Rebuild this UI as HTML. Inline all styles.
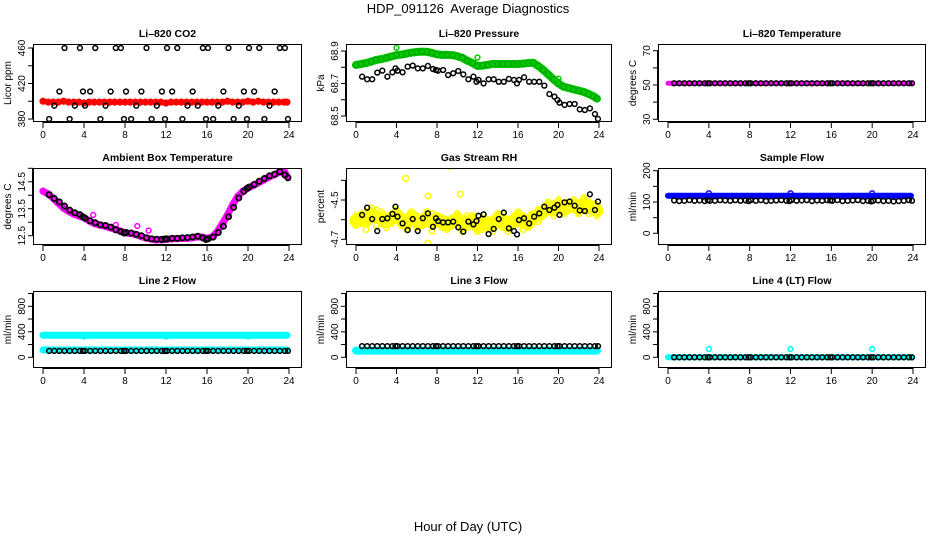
<!DOCTYPE html>
<html><head><meta charset="utf-8"><style>
html,body{margin:0;padding:0;background:#fff;}
svg{display:block;font-family:"Liberation Sans",sans-serif;}
</style></head><body>
<svg id="chart" width="936" height="540" viewBox="0 0 936 540">
<rect x="0" y="0" width="936" height="540" fill="#fff"/>
<text x="468" y="13" font-size="13" text-anchor="middle" style="white-space:pre">HDP_091126  Average Diagnostics</text>
<text x="468" y="531" font-size="13" text-anchor="middle">Hour of Day (UTC)</text>
</svg>
<script>
const hours49=[0,0.5,1,1.5,2,2.5,3,3.5,4,4.5,5,5.5,6,6.5,7,7.5,8,8.5,9,9.5,10,10.5,11,11.5,12,12.5,13,13.5,14,14.5,15,15.5,16,16.5,17,17.5,18,18.5,19,19.5,20,20.5,21,21.5,22,22.5,23,23.5,23.8];
const hours53=[0.6,1.1,1.6,2.1,2.6,3.1,3.6,3.9,4.1,4.6,5.1,5.6,6.1,6.6,7.1,7.6,7.9,8.1,8.6,9.1,9.6,10.1,10.6,11.1,11.6,11.9,12.1,12.6,13.1,13.6,14.1,14.6,15.1,15.6,15.9,16.1,16.6,17.1,17.6,18.1,18.6,19.1,19.6,19.9,20.1,20.6,21.1,21.6,22.1,22.6,23.1,23.6,23.9];
const outlierHours=[4,12,20];
const xTicks=[0,4,8,12,16,20,24];

const co2Red=[400,399,399,399,400,399,399,399,398,399,399,399,399,399,399,399,399,399,399,399,399,399,399,399,398,399,399,399,399,399,399,399,399,399,399,399,400,399,399,399,400,399,400,399,399,399,399,399,399];
const co2Black=[380,395,411,460,380,395,460,411,395,411,460,380,395,411,460,460,380,411,380,395,411,460,380,395,411,380,460,411,460,380,395,411,395,460,380,460,380,395,411,460,380,395,411,380,460,411,460,380,395,411,460,460,380];

const pressGreen=[68.814,68.82,68.826,68.835,68.845,68.85,68.858,68.866,68.875,68.878,68.884,68.89,68.894,68.896,68.895,68.888,68.88,68.876,68.876,68.875,68.868,68.858,68.84,68.826,68.808,68.81,68.815,68.82,68.82,68.82,68.82,68.82,68.82,68.822,68.826,68.828,68.808,68.783,68.755,68.726,68.7,68.68,68.672,68.664,68.656,68.648,68.635,68.62,68.607];
const pressGreenOut=[68.92,68.86,68.73];
const pressBlack=[68.742,68.726,68.726,68.767,68.779,68.742,68.769,68.793,68.779,68.769,68.804,68.810,68.793,68.793,68.808,68.789,68.783,68.779,68.783,68.752,68.763,68.777,68.756,68.726,68.742,68.711,68.722,68.701,68.726,68.726,68.711,68.711,68.728,68.722,68.701,68.722,68.738,68.711,68.711,68.711,68.687,68.635,68.619,68.598,68.582,68.568,68.574,68.574,68.541,68.537,68.547,68.512,68.482];

const tempMag=hours49.map(()=>51);
const tempBlack=hours53.map(()=>51);

const ambMag=[14.15,14.05,13.89,13.7,13.52,13.4,13.3,13.23,13.17,13.05,12.95,12.9,12.85,12.8,12.74,12.68,12.61,12.58,12.55,12.48,12.42,12.38,12.34,12.35,12.36,12.38,12.39,12.4,12.4,12.42,12.45,12.45,12.4,12.45,12.65,12.95,13.27,13.65,13.96,14.15,14.27,14.36,14.46,14.56,14.67,14.75,14.84,14.92,14.7];
const ambMagOutHours=[4.9,7.1,9.2,10.3];
const ambMagOut=[13.27,12.9,12.86,12.69];
const ambBlack=[14.02,13.88,13.75,13.6,13.45,13.35,13.28,13.2,13.15,13.05,12.98,12.9,12.88,12.82,12.72,12.65,12.6,12.62,12.6,12.55,12.5,12.42,12.38,12.37,12.36,12.38,12.38,12.4,12.4,12.42,12.43,12.45,12.48,12.42,12.36,12.38,12.45,12.62,12.85,13.2,13.55,13.9,14.15,14.25,14.3,14.4,14.52,14.62,14.72,14.78,14.88,14.75,14.65];

const rhYellowA=[-4.58,-4.62,-4.56,-4.60,-4.55,-4.62,-4.58,-4.57,-4.60,-4.63,-4.59,-4.61,-4.58,-4.60,-4.62,-4.57,-4.61,-4.64,-4.60,-4.59,-4.62,-4.60,-4.58,-4.63,-4.61,-4.59,-4.64,-4.60,-4.62,-4.57,-4.60,-4.63,-4.61,-4.58,-4.60,-4.57,-4.55,-4.54,-4.56,-4.52,-4.55,-4.53,-4.51,-4.55,-4.52,-4.54,-4.51,-4.55,-4.53];
const rhYellowB=[-4.63,-4.57,-4.65,-4.54,-4.63,-4.56,-4.64,-4.62,-4.55,-4.58,-4.65,-4.56,-4.64,-4.63,-4.56,-4.66,-4.58,-4.59,-4.65,-4.63,-4.57,-4.66,-4.64,-4.58,-4.66,-4.65,-4.60,-4.66,-4.57,-4.64,-4.66,-4.59,-4.56,-4.65,-4.64,-4.60,-4.61,-4.58,-4.51,-4.58,-4.50,-4.57,-4.55,-4.50,-4.57,-4.49,-4.57,-4.52,-4.58];
const rhOutHours=[4.9,9.2,7.1,10.3,7.1];
const rhOut=[-4.39,-4.33,-4.48,-4.47,-4.72];
const rhBlack=[-4.576,-4.539,-4.597,-4.658,-4.597,-4.593,-4.571,-4.534,-4.585,-4.619,-4.653,-4.597,-4.658,-4.593,-4.568,-4.636,-4.593,-4.607,-4.614,-4.614,-4.610,-4.639,-4.661,-4.610,-4.624,-4.607,-4.580,-4.573,-4.673,-4.647,-4.597,-4.564,-4.644,-4.658,-4.675,-4.602,-4.593,-4.619,-4.585,-4.568,-4.534,-4.551,-4.539,-4.525,-4.576,-4.512,-4.508,-4.529,-4.553,-4.556,-4.471,-4.551,-4.508];

const sampleBlue=hours49.map(()=>120);
const sampleBlueOut=[128,128,128];
const sampleBlack=[105,103,104,106,104,105,103,106,104,104,106,105,104,106,104,105,103,106,104,106,103,104,105,106,104,103,106,104,105,106,103,105,104,106,105,104,106,103,104,105,106,103,104,102,104,105,103,104,102,103,104,106,104];

const l2CyanHigh=hours49.map(()=>345);
const l2CyanHighOut=[325,325,325];
const l2CyanLow=hours49.map(()=>115);
const l2Black=hours53.map(()=>100);
const l3Cyan=hours49.map(()=>105);
const l3Black=hours53.map(()=>175);
const l4Cyan=hours49.map(()=>0);
const l4CyanOut=[130,130,130];
const l4Black=hours53.map(()=>0);

const svg=document.getElementById('chart');
const NS='http://www.w3.org/2000/svg';
function mk(tag,attrs,parent){const e=document.createElementNS(NS,tag);for(const k in attrs)e.setAttribute(k,attrs[k]);(parent||svg).appendChild(e);return e;}

const colX0=[43,356,668], colX24=[289,599,913];
const rowTop=[44,168,291], rowBot=[122,245,368];

function panel(name,title,ytitle,col,row,vA,pA,vB,pB,yticks,ylabels){
  const g=mk('g',{});
  
  
  const xs=h=>colX0[col]+(colX24[col]-colX0[col])*h/24;
  const ys=v=>pA+(v-vA)*(pB-pA)/(vB-vA);
  const L=colX0[col]-10,R=colX24[col]+13,T=rowTop[row],B=rowBot[row];
  const t=mk('text',{x:(L+R)/2,y:T-7,'font-size':10.5,'font-weight':'bold','text-anchor':'middle'},g);t.textContent=title;
  
  
  const yt=mk('text',{x:0,y:0,'font-size':10,'text-anchor':'middle',transform:`translate(${L-22},${(T+B)/2}) rotate(-90)`},g);yt.textContent=ytitle;
  
  
  yticks.forEach(v=>{mk('line',{x1:L-5,x2:L,y1:ys(v),y2:ys(v),stroke:'#000','stroke-width':1},g);});
  mk('line',{x1:L-0.5,x2:L-0.5,y1:ys(yticks[0]),y2:ys(yticks[yticks.length-1]),stroke:'#000'},g);
  ylabels.forEach(v=>{const l=mk('text',{x:0,y:0,'font-size':10,'text-anchor':'middle',transform:`translate(${L-8},${ys(v)}) rotate(-90)`},g);l.textContent=String(v);
    
    });
  xTicks.forEach(h=>{mk('line',{x1:xs(h),x2:xs(h),y1:B,y2:B+6,stroke:'#000'},g);
    const l=mk('text',{x:xs(h),y:B+16,'font-size':10,'text-anchor':'middle'},g);l.textContent=h;
    
    });
  mk('line',{x1:xs(0),x2:xs(24),y1:B+0.5,y2:B+0.5,stroke:'#000'},g);
  const clip='clip'+name;
  const cp=mk('clipPath',{id:clip},g);mk('rect',{x:L,y:T,width:R-L,height:B-T},cp);
  const data=mk('g',{'clip-path':`url(#${clip})`},g);
  const api={
    band(hs,vs,color,w,sname){const p=mk('polyline',{points:hs.map((h,i)=>xs(h)+','+ys(vs[i])).join(' '),fill:'none',stroke:color,'stroke-width':w,'stroke-linejoin':'round','stroke-linecap':'round'},data);
      
      },
    pts(hs,vs,color,sname,r,sw){const sg=mk('g',{},data);
      
      
      hs.forEach((h,i)=>{const c=mk('circle',{cx:xs(h),cy:ys(vs[i]),r:r||2.4,fill:'none',stroke:color,'stroke-width':sw||1.5},sg);
        
        });}
  };
  mk('rect',{x:L+0.5,y:T+0.5,width:R-L-1,height:B-T-1,fill:'none',stroke:'#000','stroke-width':1},g);
  return api;
}

let p;
p=panel('co2','Li\u2013820 CO2','Licor ppm',0,0,380,119,460,48,[380,400,420,440,460],[380,420,460]);
p.band(hours49,co2Red,'#ff0000',5,'co2-red');p.pts(hours49,co2Red,'#ff0000','co2-red-series',2.6,2);
p.pts(hours53,co2Black,'#000','co2-black-series');

p=panel('pressure','Li\u2013820 Pressure','kPa',1,0,68.5,116,68.9,51,[68.5,68.6,68.7,68.8,68.9],[68.5,68.7,68.9]);
p.band(hours49,pressGreen,'#00cc00',8,'pressure-green');p.pts(hours49,pressGreen,'#00aa00','pressure-green-series',2.8,1.5);
p.pts(outlierHours,pressGreenOut,'#00cc00','pressure-green-outliers');
p.pts(hours53,pressBlack,'#000','pressure-black-series');

p=panel('li820-temp','Li\u2013820 Temperature','degrees C',2,0,30,119.3,70,50.7,[30,40,50,60,70],[30,50,70]);
p.band(hours49,tempMag,'#ff00ff',5,'temp-magenta');
p.pts(hours53,tempBlack,'#000','temp-black-series');

p=panel('ambient','Ambient Box Temperature','degrees C',0,1,12.5,235.7,15,168.3,[12.5,13,13.5,14,14.5,15],[12.5,13.5,14.5]);
p.band(hours49,ambMag,'#ff00ff',7,'ambient-magenta');p.pts(hours49,ambMag,'#ff00ff','ambient-magenta-series',2.8,1.6);
p.pts(ambMagOutHours,ambMagOut,'#ff00ff','ambient-magenta-outliers');
p.pts(hours53,ambBlack,'#000','ambient-black-series',2.6,1.8);

p=panel('gas-rh','Gas Stream RH','percent',1,1,-4.7,239.3,-4.5,200,[-4.7,-4.6,-4.5,-4.4],[-4.7,-4.5]);
p.band(hours49,rhYellowA.map((v,i)=>(v+rhYellowB[i])/2),'#ffff00',13,'rh-yellow');
p.pts(hours49,rhYellowA,'#ffff00','rh-yellow-series-a',2.8,1.6);
p.pts(hours49,rhYellowB,'#ffff00','rh-yellow-series-b',2.8,1.6);
p.pts(rhOutHours,rhOut,'#ffff00','rh-yellow-outliers',2.8,1.6);
p.pts(hours53,rhBlack,'#000','rh-black-series');

p=panel('sample-flow','Sample Flow','ml/min',2,1,0,233.3,200,170.7,[0,50,100,150,200],[0,100,200]);
p.band(hours49,sampleBlue,'#0000ff',6,'sample-blue');
p.pts(outlierHours,sampleBlueOut,'#0000ff','sample-blue-outliers');
p.pts(hours53,sampleBlack,'#000','sample-black-series');

const fy=[0,200,400,600,800,1000], fl=[0,400,800];
p=panel('line2','Line 2 Flow','ml/min',0,2,0,357.3,800,306.3,fy,fl);
p.band(hours49,l2CyanHigh,'#00ffff',7,'line2-cyan-high');
p.pts(outlierHours,l2CyanHighOut,'#00ffff','line2-cyan-outliers');
p.band(hours49,l2CyanLow,'#00ffff',7,'line2-cyan-low');
p.pts(hours53,l2Black,'#000','line2-black-series');

p=panel('line3','Line 3 Flow','ml/min',1,2,0,357.3,800,306.3,fy,fl);
p.band(hours49,l3Cyan,'#00ffff',8,'line3-cyan');
p.pts(hours53,l3Black,'#000','line3-black-series');

p=panel('line4','Line 4 (LT) Flow','ml/min',2,2,0,357.3,800,306.3,fy,fl);
p.band(hours49,l4Cyan,'#00ffff',6,'line4-cyan');
p.pts(outlierHours,l4CyanOut,'#00ffff','line4-cyan-outliers');
p.pts(hours53,l4Black,'#000','line4-black-series');
</script>
</body></html>
